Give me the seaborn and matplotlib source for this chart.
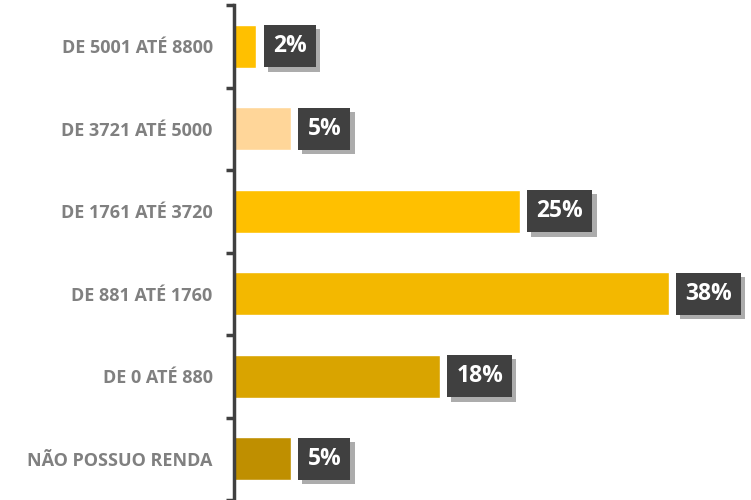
import numpy as np
import pandas as pd
import matplotlib
matplotlib.use('Agg')
import matplotlib.pyplot as plt
import matplotlib.patheffects as pe
import seaborn as sns

# faixas de renda (de cima para baixo) e percentuais
categories = ['DE 5001 ATÉ 8800', 'DE 3721 ATÉ 5000', 'DE 1761 ATÉ 3720',
              'DE 881 ATÉ 1760', 'DE 0 ATÉ 880', 'NÃO POSSUO RENDA']
values = [2, 5, 25, 38, 18, 5]
colors = ['#FFC000', '#FFD699', '#FFC000', '#F3B800', '#D9A400', '#BF8F00']

sns.set_style('white')
plt.rcParams['font.family'] = ['Open Sans', 'DejaVu Sans']

df = pd.DataFrame({'faixa': categories, 'pct': values})

fig = plt.figure(figsize=(7.51, 5.0), dpi=100)
ax = fig.add_axes([0.311, 0.0, 0.689, 0.99])

sns.barplot(data=df, x='pct', y='faixa', hue='faixa', palette=colors,
            order=categories, hue_order=categories, width=0.52,
            legend=False, ax=ax, saturation=1)

# rótulos em caixa escura com sombra
for i, v in enumerate(values):
    t = ax.annotate(f'{v}%', xy=(v, i), xytext=(12, 0), textcoords='offset points',
                    ha='left', va='center', color='white', fontsize=16.5,
                    fontweight='bold',
                    bbox=dict(boxstyle='square,pad=0.4', fc='#404040', ec='none'))
    t.get_bbox_patch().set_path_effects(
        [pe.withSimplePatchShadow(offset=(3, -3), alpha=0.35), pe.Normal()])

ax.set_xlim(0, 45.2)
ax.set_ylim(5.5, -0.5)
ax.set_xlabel('')
ax.set_ylabel('')
ax.set_xticks([])

# ticks nos limites das categorias
ax.set_yticks(np.arange(-0.5, 6.0, 1.0))
ax.set_yticklabels([])
ax.set_yticks(np.arange(6), minor=True)
ax.set_yticklabels(categories, minor=True)
ax.tick_params(axis='y', which='major', direction='out', length=6, width=2.5,
               color='#404040', left=True)
ax.tick_params(axis='y', which='minor', length=0, pad=15)
for lbl in ax.get_yticklabels(minor=True):
    lbl.set_color('#808080')
    lbl.set_fontweight('bold')
    lbl.set_fontsize(13)

for s in ['top', 'right', 'bottom']:
    ax.spines[s].set_visible(False)
ax.spines['left'].set_color('#404040')
ax.spines['left'].set_linewidth(2.5)

fig.savefig('out.png', dpi=100)
